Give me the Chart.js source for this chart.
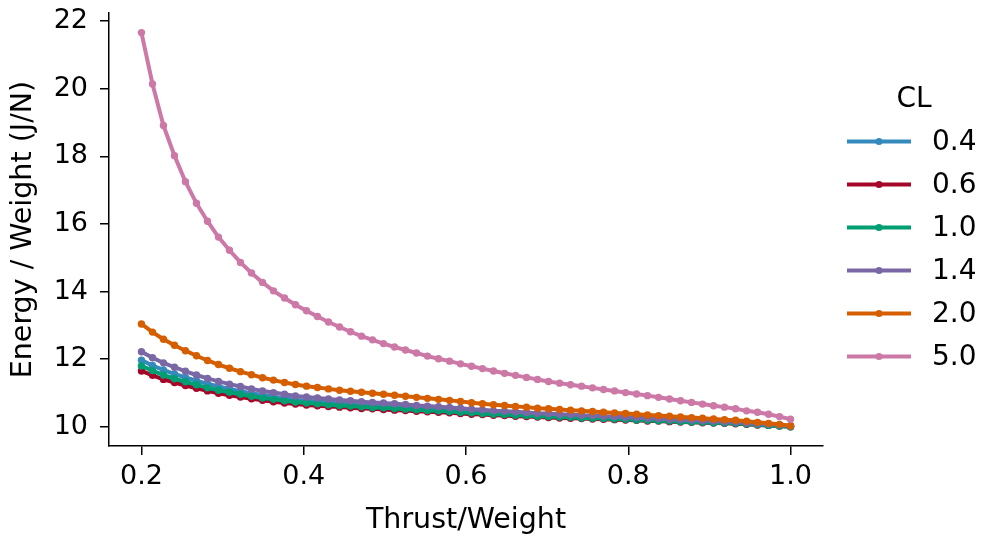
<!DOCTYPE html>
<html>
<head>
<meta charset="utf-8">
<script src="https://cdn.jsdelivr.net/npm/chart.js@4.4.0/dist/chart.umd.min.js"></script>
<style>
    html, body { margin: 0; padding: 0; background: #fff; }
    #wrap { width: 982px; height: 538px; position: relative; }
</style>
</head>
<body>
<div id="wrap"><canvas id="energy-chart"></canvas></div>
<script>
// Thrust/Weight samples (60 points from 0.2 to 1.0)
var thrustWeight = [
    0.2, 0.2136, 0.2271, 0.2407, 0.2542, 0.2678, 0.2814, 0.2949, 0.3085, 0.3220,
    0.3356, 0.3492, 0.3627, 0.3763, 0.3898, 0.4034, 0.4169, 0.4305, 0.4441, 0.4576,
    0.4712, 0.4847, 0.4983, 0.5119, 0.5254, 0.5390, 0.5525, 0.5661, 0.5797, 0.5932,
    0.6068, 0.6203, 0.6339, 0.6475, 0.6610, 0.6746, 0.6881, 0.7017, 0.7153, 0.7288,
    0.7424, 0.7559, 0.7695, 0.7831, 0.7966, 0.8102, 0.8237, 0.8373, 0.8508, 0.8644,
    0.8780, 0.8915, 0.9051, 0.9186, 0.9322, 0.9458, 0.9593, 0.9729, 0.9864, 1.0
];

var clLabels = ['0.4', '0.6', '1.0', '1.4', '2.0', '5.0'];

// Energy / Weight (J/N) per CL
var cl04 = [
    11.97, 11.81, 11.68, 11.56, 11.46, 11.36, 11.27, 11.19, 11.12, 11.05,
    10.99, 10.94, 10.89, 10.84, 10.80, 10.77, 10.75, 10.72, 10.69, 10.67,
    10.65, 10.64, 10.62, 10.60, 10.58, 10.56, 10.54, 10.52, 10.50, 10.48,
    10.45, 10.43, 10.41, 10.40, 10.38, 10.37, 10.35, 10.34, 10.32, 10.31,
    10.30, 10.28, 10.27, 10.26, 10.25, 10.23, 10.22, 10.21, 10.19, 10.18,
    10.17, 10.15, 10.14, 10.13, 10.11, 10.09, 10.07, 10.06, 10.04, 10.01
];
var cl06 = [
    11.65, 11.52, 11.40, 11.31, 11.22, 11.14, 11.06, 10.99, 10.93, 10.88,
    10.83, 10.78, 10.74, 10.70, 10.67, 10.64, 10.62, 10.60, 10.58, 10.56,
    10.54, 10.53, 10.51, 10.49, 10.48, 10.46, 10.44, 10.43, 10.41, 10.39,
    10.37, 10.36, 10.34, 10.33, 10.31, 10.30, 10.29, 10.27, 10.26, 10.25,
    10.24, 10.23, 10.22, 10.21, 10.20, 10.19, 10.17, 10.17, 10.15, 10.14,
    10.13, 10.12, 10.11, 10.10, 10.09, 10.07, 10.05, 10.04, 10.02, 10.00
];
var cl10 = [
    11.80, 11.66, 11.53, 11.42, 11.33, 11.24, 11.15, 11.08, 11.02, 10.96,
    10.90, 10.85, 10.81, 10.77, 10.73, 10.70, 10.68, 10.65, 10.63, 10.61,
    10.59, 10.57, 10.56, 10.54, 10.52, 10.50, 10.48, 10.47, 10.45, 10.43,
    10.41, 10.39, 10.37, 10.36, 10.34, 10.33, 10.31, 10.30, 10.29, 10.28,
    10.26, 10.25, 10.24, 10.23, 10.22, 10.20, 10.19, 10.18, 10.17, 10.15,
    10.14, 10.13, 10.12, 10.11, 10.10, 10.08, 10.06, 10.04, 10.02, 10.00
];
var cl14 = [
    12.22, 12.04, 11.89, 11.76, 11.64, 11.53, 11.43, 11.34, 11.26, 11.19,
    11.12, 11.06, 11.01, 10.96, 10.91, 10.88, 10.85, 10.82, 10.79, 10.77,
    10.74, 10.72, 10.70, 10.68, 10.66, 10.63, 10.61, 10.59, 10.57, 10.55,
    10.52, 10.50, 10.47, 10.46, 10.44, 10.42, 10.40, 10.39, 10.37, 10.36,
    10.34, 10.33, 10.31, 10.30, 10.28, 10.27, 10.25, 10.24, 10.22, 10.21,
    10.20, 10.18, 10.17, 10.15, 10.14, 10.11, 10.09, 10.07, 10.05, 10.02
];
var cl20 = [
    13.04, 12.80, 12.59, 12.41, 12.25, 12.10, 11.96, 11.84, 11.73, 11.63,
    11.54, 11.45, 11.38, 11.31, 11.25, 11.20, 11.16, 11.12, 11.08, 11.05,
    11.02, 10.99, 10.96, 10.93, 10.90, 10.87, 10.84, 10.81, 10.78, 10.75,
    10.71, 10.68, 10.65, 10.63, 10.60, 10.58, 10.55, 10.53, 10.51, 10.49,
    10.47, 10.45, 10.43, 10.41, 10.39, 10.37, 10.35, 10.33, 10.31, 10.29,
    10.27, 10.25, 10.23, 10.21, 10.19, 10.16, 10.13, 10.10, 10.07, 10.03
];
var cl50 = [
    21.66, 20.14, 18.91, 18.02, 17.25, 16.61, 16.08, 15.61, 15.22, 14.86,
    14.55, 14.27, 14.02, 13.81, 13.61, 13.43, 13.26, 13.10, 12.95, 12.81,
    12.68, 12.57, 12.46, 12.36, 12.27, 12.18, 12.09, 12.01, 11.94, 11.86,
    11.79, 11.72, 11.65, 11.58, 11.52, 11.46, 11.40, 11.34, 11.29, 11.24,
    11.20, 11.15, 11.10, 11.06, 11.01, 10.97, 10.92, 10.87, 10.82, 10.77,
    10.72, 10.67, 10.62, 10.58, 10.53, 10.47, 10.43, 10.37, 10.30, 10.22
];

var xTicks = [0.2, 0.4, 0.6, 0.8, 1.0];
var yTicks = [10, 12, 14, 16, 18, 20, 22];

var seriesValues = [cl04, cl06, cl10, cl14, cl20, cl50];
var seriesColors = ['#348ABD', '#A60628', '#009E73', '#7A68A6', '#D55E00', '#CC79A7'];

var FONT = 'DejaVu Sans';

// legend drawn by hand: line with a dot in the middle, like matplotlib
var clLegend = {
    id: 'clLegend',
    afterDraw: function(chart) {
        var ctx = chart.ctx;
        ctx.save();
        ctx.fillStyle = '#000';
        ctx.font = '28px "' + FONT + '"';
        ctx.textAlign = 'center';
        ctx.textBaseline = 'middle';
        ctx.fillText('CL', 914, 100);
        ctx.textAlign = 'left';
        for (var i = 0; i < clLabels.length; i++) {
            var y = 141.5 + i * 43;
            ctx.strokeStyle = seriesColors[i];
            ctx.lineWidth = 4;
            ctx.beginPath();
            ctx.moveTo(847, y);
            ctx.lineTo(911, y);
            ctx.stroke();
            ctx.fillStyle = seriesColors[i];
            ctx.beginPath();
            ctx.arc(879, y, 3.6, 0, Math.PI * 2);
            ctx.fill();
            ctx.fillStyle = '#000';
            ctx.fillText(clLabels[i], 932, y + 1.5);
        }
        ctx.restore();
    }
};

var datasets = seriesValues.map(function(values, i) {
    return {
        label: clLabels[i],
        data: thrustWeight.map(function(x, j) { return { x: x, y: values[j] }; }),
        borderColor: seriesColors[i],
        backgroundColor: seriesColors[i],
        borderWidth: 4,
        pointRadius: 3.7,
        pointBorderWidth: 0,
        pointBackgroundColor: seriesColors[i],
        tension: 0,
        order: seriesValues.length - i
    };
});

var tickFont = { family: FONT, size: 27 };
var titleFont = { family: FONT, size: 28.5 };

var energyChart = new Chart(document.getElementById('energy-chart'), {
    type: 'line',
    data: { datasets: datasets },
    options: {
        responsive: true,
        maintainAspectRatio: false,
        animation: false,
        layout: { padding: { left: 0, right: 159, top: 13, bottom: 0 } },
        plugins: {
            legend: { display: false },
            tooltip: { enabled: false }
        },
        scales: {
            x: {
                type: 'linear',
                min: 0.16,
                max: 1.04,
                afterBuildTicks: function(axis) {
                    axis.ticks = xTicks.map(function(v) { return { value: v }; });
                },
                afterFit: function(axis) {
                    axis.height = 92;
                    axis.paddingLeft = 0;
                    axis.paddingRight = 0;
                },
                grid: { drawOnChartArea: false, drawTicks: true, tickLength: 9, color: '#000', lineWidth: 1.5 },
                border: { color: '#000', width: 1.5 },
                ticks: {
                    color: '#000',
                    font: tickFont,
                    padding: 6,
                    maxRotation: 0,
                    callback: function(v) { return v.toFixed(1); }
                },
                title: {
                    display: true,
                    text: 'Thrust/Weight',
                    color: '#000',
                    font: titleFont,
                    padding: { top: 2, bottom: 0 }
                }
            },
            y: {
                type: 'linear',
                min: 9.43,
                max: 22.24,
                afterBuildTicks: function(axis) {
                    axis.ticks = yTicks.map(function(v) { return { value: v }; });
                },
                afterFit: function(axis) {
                    axis.width = 109;
                    axis.paddingTop = 0;
                    axis.paddingBottom = 0;
                },
                grid: { drawOnChartArea: false, drawTicks: true, tickLength: 9, color: '#000', lineWidth: 1.5 },
                border: { color: '#000', width: 1.5 },
                ticks: {
                    color: '#000',
                    font: tickFont,
                    padding: 12,
                    callback: function(v) { return String(v); }
                },
                title: {
                    display: true,
                    text: 'Energy / Weight (J/N)',
                    color: '#000',
                    font: titleFont,
                    padding: { top: 6, bottom: 0 }
                }
            }
        }
    },
    plugins: [clLegend]
});
</script>
</body>
</html>
